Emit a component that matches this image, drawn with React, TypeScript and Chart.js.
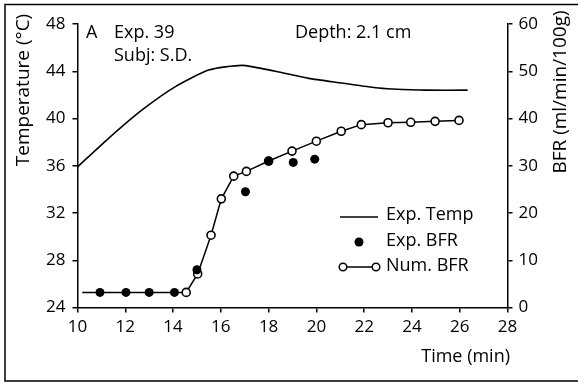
import React, { useEffect, useRef } from "react";
import { Chart, registerables } from "chart.js";

Chart.register(...registerables);

const tempTime = [10.0, 11.29, 12.69, 14.1, 15.49, 16.89, 18.29, 19.68, 21.08, 22.48, 23.18, 24.58, 26.33];
const tempValue = [35.9, 38.3, 40.7, 42.7, 44.1, 44.5, 44.0, 43.4, 43.0, 42.6, 42.5, 42.4, 42.4];

const expTime = [10.94, 12.03, 13.0, 14.06, 15.0, 17.03, 18.0, 19.03, 19.93];
const expBFR = [3.2, 3.2, 3.2, 3.2, 8.0, 24.5, 31.0, 30.7, 31.4];

const numTime = [10.2, 14.55, 15.03, 15.59, 16.02, 16.54, 17.07, 18.0, 18.98, 20.0, 21.04, 21.88, 23.0, 23.95, 24.97, 25.97];
const numBFR = [3.2, 3.2, 7.1, 15.3, 23.0, 27.8, 28.8, 31.0, 33.1, 35.2, 37.3, 38.7, 39.1, 39.2, 39.4, 39.6];

const xTicks = [10, 12, 14, 16, 18, 20, 22, 24, 26, 28];
const tempTicks = [24, 28, 32, 36, 40, 44, 48];
const bfrTicks = [0, 10, 20, 30, 40, 50, 60];

const FONT = "'Open Sans', 'DejaVu Sans', sans-serif";

const overlay = {
  id: "overlay",
  afterDraw(chart: any) {
    const ctx = chart.ctx as CanvasRenderingContext2D;
    ctx.save();
    ctx.strokeStyle = "#000";
    ctx.fillStyle = "#000";
    // frame
    ctx.lineWidth = 1.5;
    ctx.beginPath();
    ctx.moveTo(578, 4.5);
    ctx.lineTo(5, 4.5);
    ctx.lineTo(5, 381);
    ctx.lineTo(578, 381);
    ctx.stroke();

    ctx.font = `18px ${FONT}`;
    ctx.textBaseline = "middle";
    ctx.textAlign = "left";
    ctx.fillText("A", 86, 33);
    ctx.fillText("Exp. 39", 114, 33);
    ctx.fillText("Subj: S.D.", 114, 56);
    ctx.fillText("Depth: 2.1 cm", 295, 33);

    // legend
    ctx.lineWidth = 1.5;
    ctx.beginPath();
    ctx.moveTo(340, 217);
    ctx.lineTo(378, 217);
    ctx.stroke();
    ctx.fillText("Exp. Temp", 386, 215);
    ctx.beginPath();
    ctx.arc(359, 242, 4.5, 0, Math.PI * 2);
    ctx.fill();
    ctx.fillText("Exp. BFR", 386, 241);
    ctx.beginPath();
    ctx.moveTo(343, 267);
    ctx.lineTo(376, 267);
    ctx.stroke();
    for (const cx of [343, 376]) {
      ctx.beginPath();
      ctx.arc(cx, 267, 3.8, 0, Math.PI * 2);
      ctx.fillStyle = "#fff";
      ctx.fill();
      ctx.stroke();
    }
    ctx.fillStyle = "#000";
    ctx.fillText("Num. BFR", 386, 266);

    // axis titles
    ctx.textAlign = "center";
    ctx.font = `19px ${FONT}`;
    ctx.save();
    ctx.translate(24, 90);
    ctx.rotate(-Math.PI / 2);
    ctx.fillText("Temperature (°C)", 0, 0);
    ctx.restore();
    ctx.save();
    ctx.translate(561, 92);
    ctx.rotate(-Math.PI / 2);
    ctx.fillText("BFR (ml/min/100g)", 0, 0);
    ctx.restore();
    ctx.font = `18px ${FONT}`;
    ctx.textAlign = "right";
    ctx.fillText("Time (min)", 510, 357);
    ctx.restore();
  },
};

export default function App() {
  const ref = useRef<HTMLCanvasElement>(null);
  useEffect(() => {
    document.body.style.margin = "0";
    const tickFont = { family: FONT, size: 17 };
    const chart = new Chart(ref.current!, {
      type: "line",
      data: {
        datasets: [
          {
            label: "Exp. BFR",
            data: expTime.map((t, i) => ({ x: t, y: expBFR[i] })),
            yAxisID: "y1",
            showLine: false,
            pointRadius: 4.5,
            pointBackgroundColor: "#000",
            pointBorderColor: "#000",
            pointBorderWidth: 0,
            order: 0,
          },
          {
            label: "Num. BFR",
            data: numTime.map((t, i) => ({ x: t, y: numBFR[i] })),
            yAxisID: "y1",
            borderColor: "#000",
            borderWidth: 1.5,
            pointRadius: numTime.map((_, i) => (i === 0 ? 0 : 4)),
            pointBackgroundColor: "#fff",
            pointBorderColor: "#000",
            pointBorderWidth: 1.6,
            tension: 0,
            order: 1,
          },
          {
            label: "Exp. Temp",
            data: tempTime.map((t, i) => ({ x: t, y: tempValue[i] })),
            yAxisID: "y",
            borderColor: "#000",
            borderWidth: 1.6,
            pointRadius: 0,
            tension: 0.2,
            order: 2,
          },
        ],
      },
      options: {
        responsive: false,
        animation: false,
        layout: { padding: { top: 24, left: 0, right: 0, bottom: 0 } },
        plugins: { legend: { display: false }, tooltip: { enabled: false } },
        scales: {
          x: {
            type: "linear",
            min: 10,
            max: 28,
            afterBuildTicks: (s: any) => {
              s.ticks = xTicks.map((v) => ({ value: v }));
            },
            afterFit: (s: any) => {
              s.height = 383 - 307.5;
            },
            grid: { drawOnChartArea: false, drawTicks: true, tickLength: 5, color: "#000", lineWidth: 1.5 },
            border: { display: true, color: "#000", width: 1.5 },
            ticks: { color: "#000", font: tickFont, padding: 4, maxRotation: 0, autoSkip: false },
          },
          y: {
            position: "left",
            min: 24,
            max: 48,
            afterBuildTicks: (s: any) => {
              s.ticks = tempTicks.map((v) => ({ value: v }));
            },
            afterFit: (s: any) => {
              s.width = 77.5;
            },
            grid: { drawOnChartArea: false, drawTicks: true, tickLength: 5, color: "#000", lineWidth: 1.5 },
            border: { display: true, color: "#000", width: 1.5 },
            ticks: { color: "#000", font: tickFont, padding: 7, autoSkip: false },
          },
          y1: {
            position: "right",
            min: 0,
            max: 60,
            afterBuildTicks: (s: any) => {
              s.ticks = bfrTicks.map((v) => ({ value: v }));
            },
            afterFit: (s: any) => {
              s.width = 578 - 507.5;
            },
            grid: { drawOnChartArea: false, drawTicks: true, tickLength: 5, color: "#000", lineWidth: 1.5 },
            border: { display: true, color: "#000", width: 1.5 },
            ticks: { color: "#000", font: tickFont, padding: 6, autoSkip: false },
          },
        },
      },
      plugins: [overlay],
    } as any);
    return () => chart.destroy();
  }, []);
  return <canvas ref={ref} width={578} height={383} style={{ display: "block" }} />;
}
